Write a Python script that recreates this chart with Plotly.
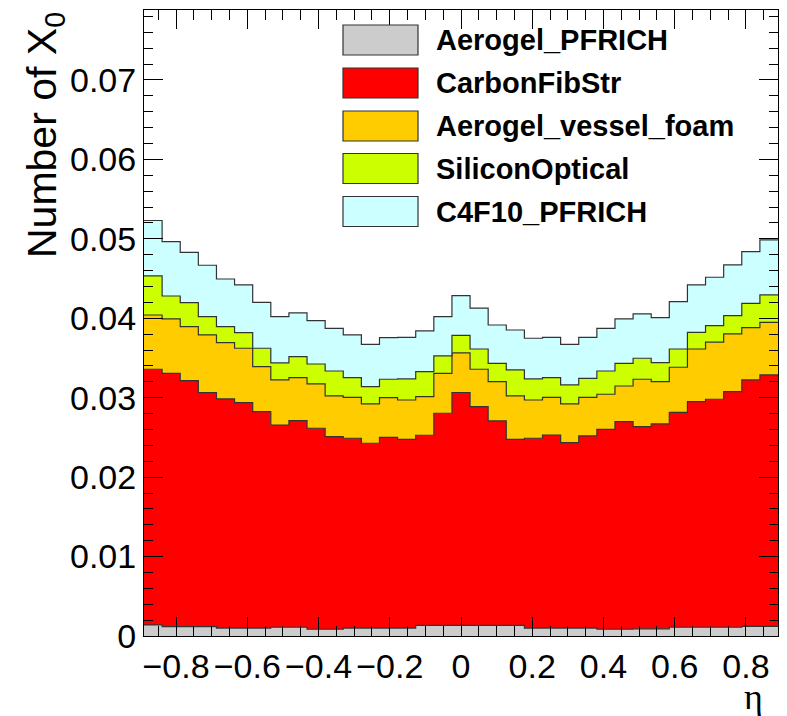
import numpy as np
import plotly.graph_objects as go

# ---- data (per-material contribution per eta bin) ----
eta_min, eta_max, n_bins = -0.89, 0.89, 35
materials = ["Aerogel_PFRICH", "CarbonFibStr", "Aerogel_vessel_foam", "SiliconOptical", "C4F10_PFRICH"]
colors = ["#cccccc", "#ff0000", "#ffcc00", "#ccff00", "#ccffff"]

aerogel_pfrich = [0.0014, 0.00118, 0.00118, 0.00117, 0.0010, 0.0010, 0.0010, 0.0011, 0.0011, 0.00085,
                  0.00085, 0.0010, 0.0010, 0.0010, 0.0010, 0.00134, 0.00134, 0.00134, 0.00134, 0.00134,
                  0.00134, 0.0010, 0.0010, 0.0010, 0.0010, 0.00085, 0.00085, 0.0009, 0.0009, 0.0011,
                  0.0011, 0.0011, 0.0011, 0.0012, 0.0012]
carbonfibstr = [0.03218, 0.03189, 0.03096, 0.02946, 0.02884, 0.02837, 0.02724, 0.02546, 0.0260, 0.0253,
                0.02424, 0.02389, 0.02326, 0.02401, 0.02376, 0.02393, 0.0267, 0.02931, 0.02753, 0.02573,
                0.02342, 0.02389, 0.0243, 0.02334, 0.02418, 0.02517, 0.02613, 0.02545, 0.02579, 0.02706,
                0.0284, 0.0287, 0.02966, 0.03103, 0.03166]
aerogel_vessel_foam = [0.00683, 0.00684, 0.0068, 0.00727, 0.00709, 0.00685, 0.00566, 0.00567, 0.00542, 0.00558,
                       0.00513, 0.00516, 0.00495, 0.00499, 0.00495, 0.00486, 0.00503, 0.00498, 0.00471, 0.00495,
                       0.00546, 0.00482, 0.00475, 0.00487, 0.00487, 0.00441, 0.00449, 0.00597, 0.00533, 0.00567,
                       0.00663, 0.00718, 0.00726, 0.00659, 0.00663]
silicon_optical = [0.00491, 0.00289, 0.00302, 0.0023, 0.00201, 0.00197, 0.00232, 0.00214, 0.00265, 0.00251,
                   0.00314, 0.00247, 0.00218, 0.00232, 0.00265, 0.00315, 0.00218, 0.00222, 0.00255, 0.00231,
                   0.00327, 0.00265, 0.00247, 0.00239, 0.00239, 0.00293, 0.00286, 0.00264, 0.00239, 0.0023,
                   0.0021, 0.00209, 0.00231, 0.00306, 0.00344]
c4f10_pfrich = [0.00698, 0.00685, 0.00634, 0.00647, 0.006, 0.006, 0.00578, 0.00583, 0.0055, 0.00546,
                0.00537, 0.00538, 0.00533, 0.00524, 0.00524, 0.00512, 0.00495, 0.005, 0.00513, 0.00482,
                0.00503, 0.00512, 0.00508, 0.00512, 0.00516, 0.00537, 0.00558, 0.00558, 0.00566, 0.00596,
                0.00596, 0.00609, 0.00638, 0.0065, 0.00693]
series = [aerogel_pfrich, carbonfibstr, aerogel_vessel_foam, silicon_optical, c4f10_pfrich]

x_ticks = [-0.8, -0.6, -0.4, -0.2, 0, 0.2, 0.4, 0.6, 0.8]
x_ticktext = ["\u22120.8", "\u22120.6", "\u22120.4", "\u22120.2", "0", "0.2", "0.4", "0.6", "0.8"]
y_ticks = [0, 0.01, 0.02, 0.03, 0.04, 0.05, 0.06, 0.07]
y_ticktext = ["0", "0.01", "0.02", "0.03", "0.04", "0.05", "0.06", "0.07"]

edges = np.linspace(eta_min, eta_max, n_bins + 1)

fig = go.Figure()
for name, vals, col in zip(materials, series, colors):
    yv = list(vals) + [vals[-1]]
    fig.add_trace(go.Scatter(
        x=edges, y=yv, name=name, mode="lines",
        line=dict(shape="hv", color="#333333", width=1.2),
        fillcolor=col, stackgroup="one", showlegend=False,
        hoverinfo="skip",
    ))

W, H = 787, 716
L, R, T, B = 144, 9, 10, 80
pw, ph = W - L - R, H - T - B

def px_x(x):
    return (x - L) / pw

def px_y(y):
    return (H - B - y) / ph

# manual ROOT-like legend
row_y = [40, 83, 126, 168.5, 211.5]
shapes = []
annotations = []
for name, col, yc in zip(materials, colors, row_y):
    shapes.append(dict(type="rect", xref="paper", yref="paper",
                       x0=px_x(343), x1=px_x(418), y0=px_y(yc + 15), y1=px_y(yc - 15),
                       fillcolor=col, line=dict(color="#333333", width=1.2), layer="above"))
    annotations.append(dict(xref="paper", yref="paper", x=px_x(434), y=px_y(yc),
                            xanchor="left", yanchor="middle", showarrow=False,
                            text="<b>" + name + "</b>",
                            font=dict(family="Liberation Sans, Arial, sans-serif", size=29, color="black")))

annotations.append(dict(xref="paper", yref="paper", x=px_x(45), y=1.0, xanchor="center", yanchor="top",
                        textangle=-90, showarrow=False, text="Number of X<sub>0</sub>",
                        font=dict(family="Liberation Sans, Arial, sans-serif", size=41, color="black")))
annotations.append(dict(xref="paper", yref="paper", x=px_x(753), y=px_y(697), xanchor="center", yanchor="middle",
                        showarrow=False, text="\u03b7",
                        font=dict(family="Liberation Serif, DejaVu Serif, serif", size=36, color="black")))

fig.update_layout(
    width=W, height=H,
    margin=dict(l=L, r=R, t=T, b=B, pad=0, autoexpand=False),
    paper_bgcolor="white", plot_bgcolor="white",
    font=dict(family="Liberation Sans, Arial, sans-serif", size=34, color="black"),
    shapes=shapes, annotations=annotations,
    xaxis=dict(range=[eta_min, eta_max], tickvals=x_ticks, ticktext=x_ticktext,
               ticks="inside", ticklen=19, tickwidth=1, tickcolor="black", automargin=False,
               showline=True, linecolor="black", linewidth=1, mirror="allticks",
               showgrid=False, zeroline=False,
               minor=dict(ticks="inside", dtick=0.05, tick0=0, ticklen=10, tickcolor="black", showgrid=False)),
    yaxis=dict(range=[0, 0.0788], tickvals=y_ticks, ticktext=y_ticktext,
               ticks="inside", ticklen=19, tickwidth=1, tickcolor="black", automargin=False,
               showline=True, linecolor="black", linewidth=1, mirror="allticks",
               showgrid=False, zeroline=False,
               minor=dict(ticks="inside", dtick=0.002, tick0=0, ticklen=9, tickcolor="black", showgrid=False)),
)

fig.write_html("out.html", config={"displayModeBar": False},
               post_script="document.body.style.margin='0';document.body.style.overflow='hidden';")
